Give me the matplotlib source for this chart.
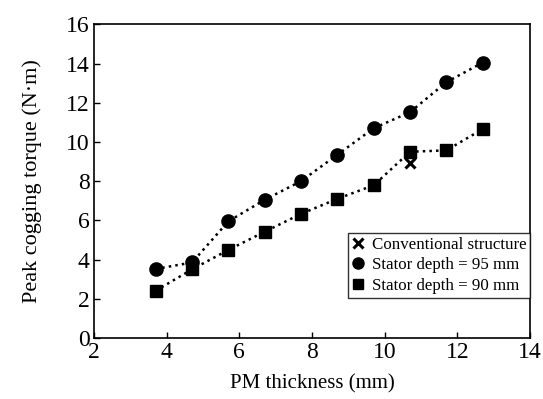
import matplotlib
matplotlib.use("Agg")
import matplotlib.pyplot as plt
from matplotlib.lines import Line2D

plt.rcParams['font.family'] = ['Liberation Serif', 'DejaVu Serif']

pm_thickness = [3.7, 4.7, 5.7, 6.7, 7.7, 8.7, 9.7, 10.7, 11.7, 12.7]
depth95 = [3.52, 3.85, 5.95, 7.05, 8.0, 9.35, 10.7, 11.52, 13.05, 14.05]
depth90 = [2.41, 3.5, 4.49, 5.42, 6.33, 7.1, 7.79, 9.5, 9.57, 10.66]
conv_x = [10.7]
conv_y = [8.94]

fig = plt.figure(figsize=(5.43, 3.99), dpi=100)
ax = fig.add_axes([0.173, 0.153, 0.803, 0.786])

ax.plot(pm_thickness, depth95, linestyle=':', color='black', linewidth=1.8,
        marker='o', markersize=9.5)
ax.plot(pm_thickness, depth90, linestyle=':', color='black', linewidth=1.8,
        marker='s', markersize=8.5)
ax.plot(conv_x, conv_y, linestyle='none', color='black', marker='x',
        markersize=7, markeredgewidth=2.2)

ax.set_xlim(2, 14)
ax.set_ylim(0, 16)
ax.set_xticks(range(2, 15, 2))
ax.set_yticks(range(0, 17, 2))
ax.tick_params(direction='in', length=4, width=1, labelsize=17, top=False, right=False, pad=3)
for s in ax.spines.values():
    s.set_linewidth(1.2)

ax.set_xlabel('PM thickness (mm)', fontsize=15, labelpad=8)
ax.set_ylabel('Peak cogging torque (N·m)', fontsize=16, labelpad=17)

handles = [
    Line2D([], [], linestyle='none', color='black', marker='x', markersize=7, markeredgewidth=2.2),
    Line2D([], [], linestyle='none', color='black', marker='o', markersize=8),
    Line2D([], [], linestyle='none', color='black', marker='s', markersize=7.5),
]
labels = ['Conventional structure', 'Stator depth = 95 mm', 'Stator depth = 90 mm']
leg = ax.legend(handles, labels, loc='lower right', bbox_to_anchor=(1.0, 0.128),
                borderaxespad=0, fontsize=12.2, frameon=True, fancybox=False,
                edgecolor='black', handlelength=0.8, handletextpad=0.4,
                labelspacing=0.28, borderpad=0.22)
leg.get_frame().set_linewidth(1.0)

fig.savefig('out.png', dpi=100)
